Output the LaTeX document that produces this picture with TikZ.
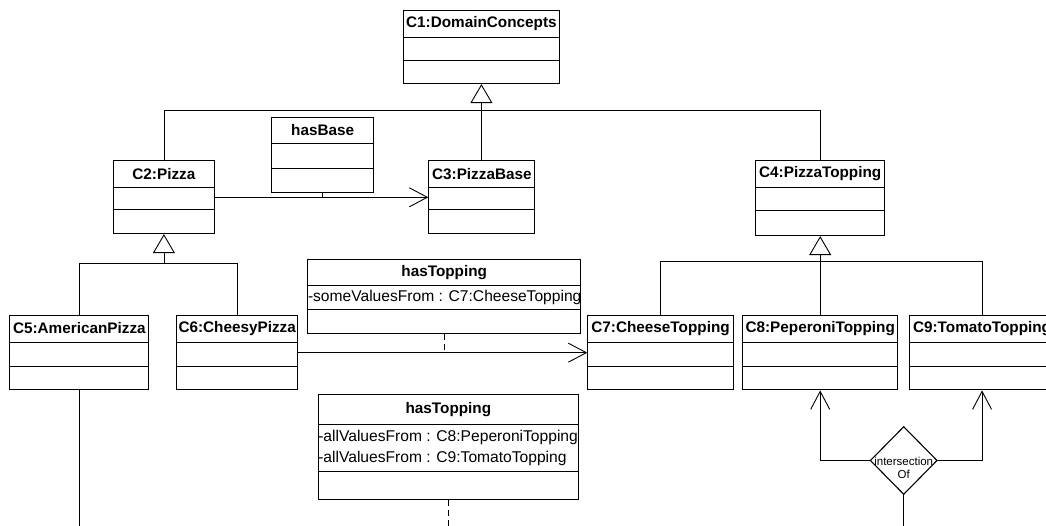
\documentclass[tikz,border=0pt]{standalone}
\usepackage{fontspec}
\setmainfont{Liberation Sans}
\usetikzlibrary{arrows.meta,calc,shapes.geometric}
\tikzset{
  clsbox/.style={draw, line width=1.1pt, rectangle, inner sep=0pt, anchor=north west},
  clstitle/.style={font=\bfseries\fontsize{15.3}{18}\selectfont, inner sep=0pt},
  clsattr/.style={font=\fontsize{15.6}{21}\selectfont, inner sep=0pt, anchor=west, align=left},
  sepline/.style={line width=1pt},
  conn/.style={line width=0.8pt},
  gen/.style={conn, -{Triangle[open, length=19pt, width=22pt, line width=0.9pt]}},
  assoc/.style={conn, -{Straight Barb[length=18pt, width=19pt, line width=0.9pt]}},
  dashconn/.style={conn, dash pattern=on 6pt off 4pt},
}
% #1 name, #2 x, #3 y, #4 width, #5 title h, #6 attr h, #7 op h, #8 title, #9 attributes
\newcommand\umlclass[9]{%
  \node[clsbox, minimum width=#4pt, minimum height=#5pt+#6pt+#7pt] (#1) at (#2,#3) {};
  \node[clstitle] (#1t) at ($(#1.north)+(0,#5/2)$) {#8};
  \draw[sepline] ($(#1.north west)+(0,#5)$) -- ($(#1.north east)+(0,#5)$);
  \draw[sepline] ($(#1.north west)+(0,#5+#6)$) -- ($(#1.north east)+(0,#5+#6)$);
  \if\relax\detokenize{#9}\relax\else
    \node[clsattr] (#1a) at ($(#1.north west)+(0.5,#5+#6/2)$) {#9};
  \fi
}
\begin{document}
\begin{tikzpicture}[x=1pt, y=-1pt]
  \clip (0,0) rectangle (1046,526);
  \umlclass{c1}{402.7}{10}{156.3}{27.7}{23.3}{22}{C1:DomainConcepts}{}
  \umlclass{c2}{112.7}{160}{101.3}{27.3}{22.7}{23}{C2:Pizza}{}
  \umlclass{c3}{428.3}{160}{106}{27.3}{22.7}{23}{C3:PizzaBase}{}
  \umlclass{c4}{755}{160}{129.3}{27.3}{23.4}{24.3}{C4:PizzaTopping}{}
  \umlclass{hb}{271}{116.7}{102.3}{27.3}{24.3}{23.4}{hasBase}{}
  \umlclass{ht1}{307.3}{259.3}{272.7}{26.4}{24.3}{23.3}{hasTopping}{-someValuesFrom : C7:CheeseTopping}
  \umlclass{c5}{9.3}{315}{139}{27}{24}{23.3}{C5:AmericanPizza}{}
  \umlclass{c6}{176}{315}{121.3}{27}{24}{23.3}{C6:CheesyPizza}{}
  \umlclass{c7}{587.3}{315}{145.4}{27.3}{23.7}{23.3}{C7:CheeseTopping}{}
  \umlclass{c8}{742}{315}{155.3}{27.3}{23.7}{23.3}{C8:PeperoniTopping}{}
  \umlclass{c9}{909}{315}{145}{27.3}{23.7}{23.3}{C9:TomatoTopping}{}
  \umlclass{ht2}{317.6}{394.2}{260.4}{30.6}{47}{26.8}{hasTopping}{-allValuesFrom : C8:PeperoniTopping\\-allValuesFrom : C9:TomatoTopping}

  % generalization C1
  \coordinate (j1) at ($(c1.south)+(0,26)$);
  \draw[gen] (j1) -- (c1.south);
  \draw[conn] (j1) -- (j1 |- c3.north);
  \draw[conn] (c2.north) |- (j1) -| (c4.north);
  % generalization C2
  \coordinate (j2) at ($(c2.south)+(0,29.7)$);
  \draw[gen] (j2) -- (c2.south);
  \draw[conn] (c5.north) |- (j2) -| (c6.north);
  % generalization C4
  \coordinate (j3) at ($(c4.south)+(0,25)$);
  \draw[gen] (j3) -- (c4.south);
  \draw[conn] (j3) -- (c8.north);
  \draw[conn] (c7.north) |- (j3) -| (c9.north);

  % hasBase association
  \coordinate (a1) at (c2.east |- 0,197.3);
  \draw[assoc] (a1) -- (c3.west |- a1);
  \draw[conn] (hb.south) -- (hb.south |- a1);
  % hasTopping (some) association
  \coordinate (a2) at (c6.east |- 0,352.7);
  \draw[assoc] (a2) -- (c7.west |- a2);
  \draw[dashconn] (ht1.south) -- (ht1.south |- a2);
  % hasTopping (all) dashed link
  \coordinate (e1) at (ht2.south |- 0,535);
  \draw[dashconn] (ht2.south) -- (e1);
  % C5 line down
  \coordinate (e2) at (c5.south |- 0,535);
  \draw[conn] (c5.south) -- (e2);

  % intersectionOf
  \node[diamond, draw, line width=1.1pt, minimum width=67pt, minimum height=68pt, inner sep=0pt] (dia) at (903.7,460.5) {};
  \node[font=\fontsize{11.5}{13.3}\selectfont, align=center, inner sep=0pt] (diat) at (903.7,467.6) {intersection\\Of};
  \draw[assoc] (dia.west) -| (c8.south);
  \draw[assoc] (dia.east) -| (c9.south);
  \coordinate (e3) at (dia.south |- 0,535);
  \draw[conn] (dia.south) -- (e3);
\end{tikzpicture}
\end{document}
